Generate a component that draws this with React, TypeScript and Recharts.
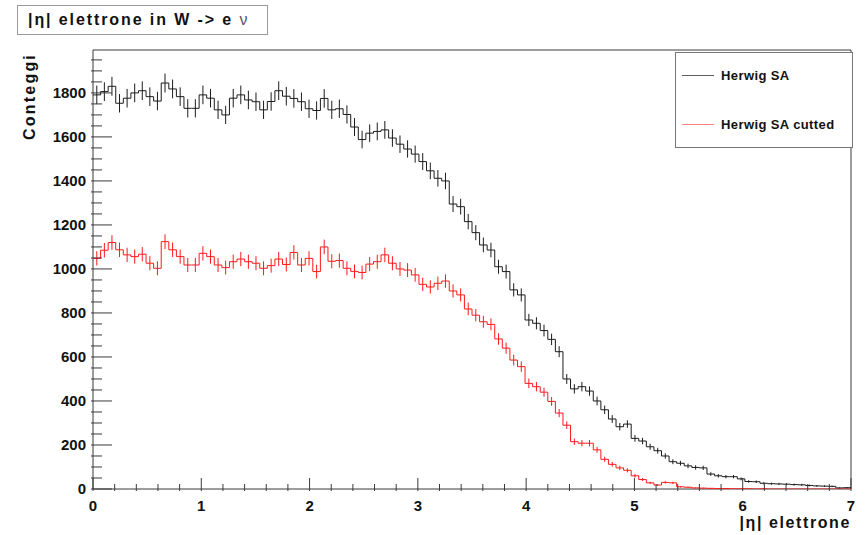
import React from "react";
import {
  ComposedChart,
  Line,
  Scatter,
  ErrorBar,
  XAxis,
  YAxis,
  ReferenceArea,
  Label,
} from "recharts";

// histogram binning: 100 bins over |eta| 0..7
const ETA_MIN = 0;
const ETA_MAX = 7;
const Y_MAX = 1995;

const herwigSA = [
  1791, 1806, 1830, 1753, 1776, 1800, 1810, 1783, 1763, 1845,
  1818, 1783, 1730, 1730, 1791, 1776, 1723, 1700, 1776, 1791,
  1768, 1760, 1723, 1761, 1810, 1785, 1775, 1760, 1728, 1720,
  1775, 1723, 1728, 1702, 1645, 1588, 1617, 1625, 1632, 1595,
  1567, 1545, 1522, 1488, 1446, 1412, 1400, 1295, 1283, 1215,
  1165, 1109, 1086, 1010, 988, 905, 882, 768, 753, 720,
  680, 624, 500, 455, 465, 445, 400, 360, 318, 283,
  295, 230, 218, 192, 174, 150, 124, 117, 105, 98,
  96, 68, 60, 56, 56, 46, 34, 33, 26, 24,
  23, 22, 20, 19, 16, 14, 13, 12, 5, 6,
];

const herwigSACut = [
  1048, 1085, 1120, 1087, 1064, 1056, 1067, 1026, 1003, 1124,
  1087, 1056, 1018, 1018, 1071, 1056, 1018, 1006, 1033, 1045,
  1033, 1026, 1003, 1015, 1045, 1020, 1075, 1018, 1048, 988,
  1100, 1035, 1038, 1003, 989, 984, 1022, 1033, 1064, 1026,
  1000, 995, 973, 930, 918, 935, 945, 900, 882, 818,
  790, 760, 748, 682, 640, 586, 556, 480, 465, 440,
  398, 345, 290, 215, 208, 208, 178, 135, 112, 96,
  85, 60, 43, 28, 18, 30, 28, 10, 8, 5,
  4, 3, 2, 2, 1, 1, 1, 0, 1, 0,
  0, 0, 0, 0, 0, 0, 0, 0, 0, 0,
];

const seriesNames = ["Herwig SA", "Herwig SA cutted"];
const seriesColors = ["#1c1c1c", "#ff1a1a"];

const xMajorTicks = [0, 1, 2, 3, 4, 5, 6, 7];
const yMajorTicks = [0, 200, 400, 600, 800, 1000, 1200, 1400, 1600, 1800];

const nBins = herwigSA.length;
const binWidth = (ETA_MAX - ETA_MIN) / nBins;

// step outline: one point per low edge, plus the closing edge
const stepData = herwigSA.map((v, i) => ({
  eta: ETA_MIN + i * binWidth,
  sa: v,
  cut: herwigSACut[i],
}));
stepData.push({
  eta: ETA_MAX,
  sa: herwigSA[nBins - 1],
  cut: herwigSACut[nBins - 1],
});

// poisson error bars at bin centres
const errorRows = (vals: number[]) =>
  vals.map((v, i) => ({
    eta: ETA_MIN + (i + 0.5) * binWidth,
    n: v,
    err: Math.sqrt(v),
  }));
const errSA = errorRows(herwigSA);
const errCut = errorRows(herwigSACut);

const xTicks: number[] = [];
for (let i = 0; i <= 35; i++) xTicks.push(+(i * 0.2).toFixed(1));
const yTicks: number[] = [];
for (let v = 0; v <= 1950; v += 50) yTicks.push(v);

const FONT = "'Liberation Sans', Arial, Helvetica, sans-serif";
const AXIS = "#3a3a3a";

const XTick = (props: any) => {
  const { x, y, payload } = props;
  const v = payload.value;
  const major = xMajorTicks.includes(v);
  return (
    <g>
      <line x1={x} y1={y} x2={x} y2={y - (major ? 13 : 7)} stroke={AXIS} strokeWidth={1} />
      {major && (
        <text x={x} y={y + 20} textAnchor="middle" fontSize={15} fontWeight="bold" fontFamily={FONT} fill="#111">
          {v}
        </text>
      )}
    </g>
  );
};

const YTick = (props: any) => {
  const { x, y, payload } = props;
  const v = payload.value;
  const major = yMajorTicks.includes(v);
  return (
    <g>
      <line x1={x} y1={y} x2={x + (major ? 21 : 11)} y2={y} stroke={AXIS} strokeWidth={1} />
      {major && (
        <text x={x - 5} y={y + 5} textAnchor="end" fontSize={15} fontWeight="bold" fontFamily={FONT} fill="#111">
          {v}
        </text>
      )}
    </g>
  );
};

export default function App() {
  return (
    <div style={{ position: "absolute", left: 0, top: 0, width: 865, height: 535, background: "#fff" }}>
      <ComposedChart width={865} height={535} margin={{ top: 50, right: 14, bottom: 0, left: 0 }}>
        <XAxis
          dataKey="eta"
          type="number"
          domain={[ETA_MIN, ETA_MAX]}
          ticks={xTicks}
          interval={0}
          tickSize={0}
          tickLine={false}
          axisLine={false}
          height={46}
          tick={(p: any) => <XTick {...p} />}
        >
          <Label
            content={({ viewBox }: any) => (
              <text
                x={viewBox.x + viewBox.width}
                y={viewBox.y + 39}
                textAnchor="end"
                fontSize={16}
                letterSpacing={1.6}
                fontWeight="bold"
                fontFamily={FONT}
                fill="#111"
              >
                |η| elettrone
              </text>
            )}
          />
        </XAxis>
        <YAxis
          type="number"
          domain={[0, Y_MAX]}
          allowDataOverflow
          ticks={yTicks}
          interval={0}
          tickSize={0}
          tickLine={false}
          axisLine={false}
          width={93}
          tick={(p: any) => <YTick {...p} />}
        >
          <Label
            content={({ viewBox }: any) => {
              const lx = viewBox.x + 35;
              const ly = viewBox.y + 3;
              return (
                <text
                  x={lx}
                  y={ly}
                  transform={`rotate(-90, ${lx}, ${ly})`}
                  textAnchor="end"
                  fontSize={16}
                  letterSpacing={2.2}
                  fontWeight="bold"
                  fontFamily={FONT}
                  fill="#111"
                >
                  Conteggi
                </text>
              );
            }}
          />
        </YAxis>
        <ReferenceArea
          x1={ETA_MIN}
          x2={ETA_MAX}
          y1={0}
          y2={Y_MAX}
          fill="none"
          fillOpacity={0}
          stroke={AXIS}
          strokeWidth={1}
          ifOverflow="visible"
        />
        <Line
          data={stepData}
          dataKey="sa"
          type="stepAfter"
          stroke={seriesColors[0]}
          strokeWidth={1}
          dot={false}
          isAnimationActive={false}
        />
        <Line
          data={stepData}
          dataKey="cut"
          type="stepAfter"
          stroke={seriesColors[1]}
          strokeWidth={1}
          dot={false}
          isAnimationActive={false}
        />
        <Scatter data={errSA} dataKey="n" shape={() => <g />} isAnimationActive={false}>
          <ErrorBar dataKey="err" direction="y" width={0} stroke={seriesColors[0]} strokeWidth={1} isAnimationActive={false} />
        </Scatter>
        <Scatter data={errCut} dataKey="n" shape={() => <g />} isAnimationActive={false}>
          <ErrorBar dataKey="err" direction="y" width={0} stroke={seriesColors[1]} strokeWidth={1} isAnimationActive={false} />
        </Scatter>
      </ComposedChart>

      {/* title box */}
      <div
        style={{
          position: "absolute",
          left: 17,
          top: 5,
          width: 251,
          height: 30,
          boxSizing: "border-box",
          border: "1px solid #9a9a9a",
          background: "#fff",
          display: "flex",
          alignItems: "center",
          paddingLeft: 10,
          fontFamily: FONT,
          fontWeight: "bold",
          fontSize: 16,
          letterSpacing: 1.9,
          color: "#111",
          whiteSpace: "nowrap",
        }}
      >
        |η| elettrone in W -&gt; e&nbsp;<span style={{ fontWeight: "normal", color: "#555" }}>ν</span>
      </div>

      {/* legend */}
      <div
        style={{
          position: "absolute",
          left: 675,
          top: 52,
          width: 178,
          height: 96,
          boxSizing: "border-box",
          border: "1px solid #777",
          background: "#fff",
          fontFamily: FONT,
        }}
      >
        {seriesNames.map((name, i) => (
          <div
            key={name}
            style={{ position: "absolute", left: 6, top: 14 + i * 49, display: "flex", alignItems: "center", height: 16 }}
          >
            <div style={{ width: 32, height: 1, background: seriesColors[i], opacity: i === 0 ? 0.7 : 0.55 }} />
            <span style={{ marginLeft: 7, fontSize: 13, letterSpacing: 0.4, fontWeight: "bold", color: "#111" }}>{name}</span>
          </div>
        ))}
      </div>
    </div>
  );
}
